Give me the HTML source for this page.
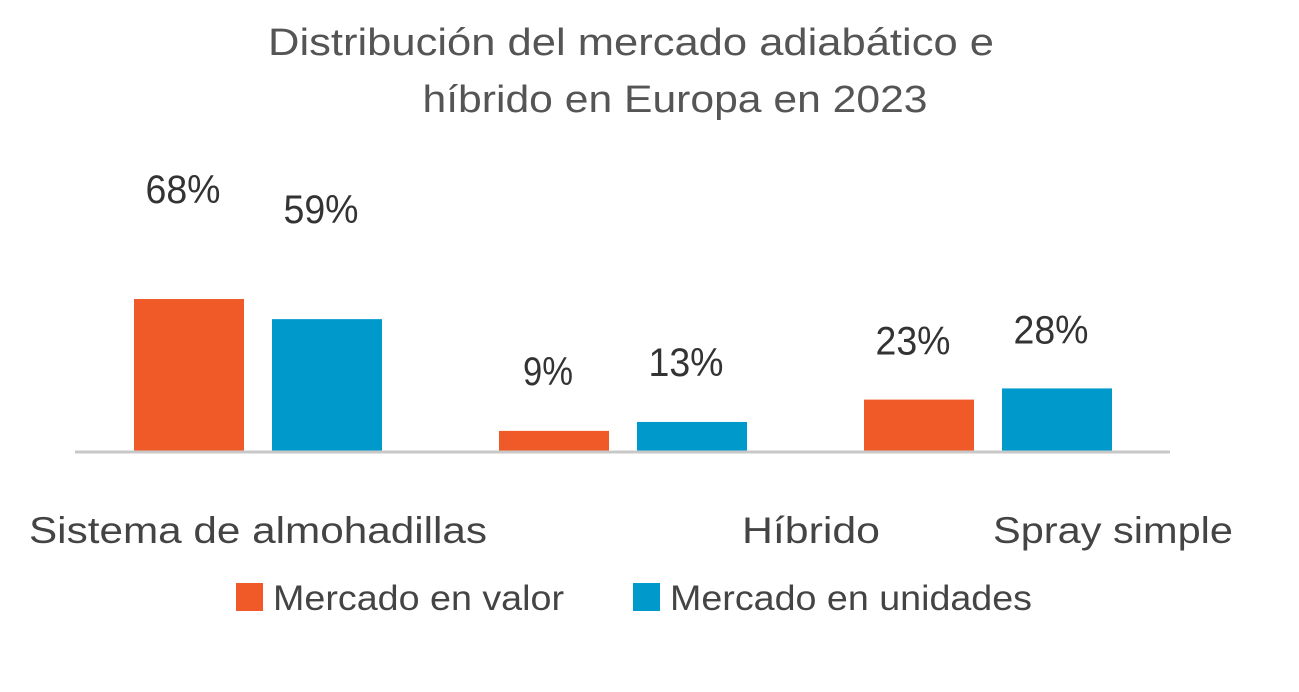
<!DOCTYPE html>
<html><head><meta charset="utf-8"><style>
html,body{margin:0;padding:0;background:#fff;}
svg{display:block;font-family:"Liberation Sans",sans-serif;}
</style></head><body>
<svg id="chart" width="1299" height="692" viewBox="0 0 1299 692">
<text x="631" y="55" text-anchor="middle" font-size="38" fill="#555" textLength="726" lengthAdjust="spacingAndGlyphs">Distribución del mercado adiabático e</text>
<text x="675" y="112" text-anchor="middle" font-size="38" fill="#555" textLength="505" lengthAdjust="spacingAndGlyphs">híbrido en Europa en 2023</text>
<g id="bars"></g>
<line x1="75" y1="452" x2="1170" y2="452" stroke="#c8c8c8" stroke-width="3"/>
<g id="cats"></g>
<rect x="236" y="583" width="27" height="28" fill="#f05a28"/>
<text x="273" y="610" font-size="35" fill="#444" textLength="291" lengthAdjust="spacingAndGlyphs">Mercado en valor</text>
<rect x="633" y="583" width="27" height="28" fill="#0099cc"/>
<text x="670" y="610" font-size="35" fill="#444" textLength="362" lengthAdjust="spacingAndGlyphs">Mercado en unidades</text>
</svg>
<script>
const categories = ["Sistema de almohadillas", "Híbrido", "Spray simple"];
const valorValues = [68, 9, 23];
const unidadesValues = [59, 13, 28];
const valueLabelsValor = ["68%", "9%", "23%"];
const valueLabelsUnidades = ["59%", "13%", "28%"];

const NS = "http://www.w3.org/2000/svg";
const baseY = 451, pxPerPct = 2.235;
const groupX = [134, 499, 864];
const catLabelX = [258, 811, 1113];
const catLabelW = [458, 138, 240];
const labelGap = [96, 46, 45];
function yScale(v){ return baseY - v * pxPerPct; }
function mk(tag, attrs){ const e = document.createElementNS(NS, tag); for (const k in attrs) e.setAttribute(k, attrs[k]); return e; }
const bars = document.getElementById('bars');
const cats = document.getElementById('cats');
categories.forEach((c, i) => {
  const series = [[valorValues[i], valueLabelsValor[i], "#f05a28", 0, "valor"], [unidadesValues[i], valueLabelsUnidades[i], "#0099cc", 138, "unidades"]];
  series.forEach(([v, lab, col, off, nm]) => {
    const x = groupX[i] + off, y = yScale(v);
    const r = mk('rect', {x: x, y: y, width: 110, height: baseY - y, fill: col});
    
    
    bars.appendChild(r);
    const t = mk('text', {x: x + 49, y: y - labelGap[i], 'text-anchor': 'middle', 'font-size': 40, fill: '#333', textLength: lab.length * 25, lengthAdjust: 'spacingAndGlyphs'});
    t.textContent = lab;
    
    
    bars.appendChild(t);
  });
  const ct = mk('text', {x: catLabelX[i], y: 543, 'text-anchor': 'middle', 'font-size': 37, fill: '#444', textLength: catLabelW[i], lengthAdjust: 'spacingAndGlyphs'});
  ct.textContent = c;
  
  
  cats.appendChild(ct);
});
</script>
</body></html>
